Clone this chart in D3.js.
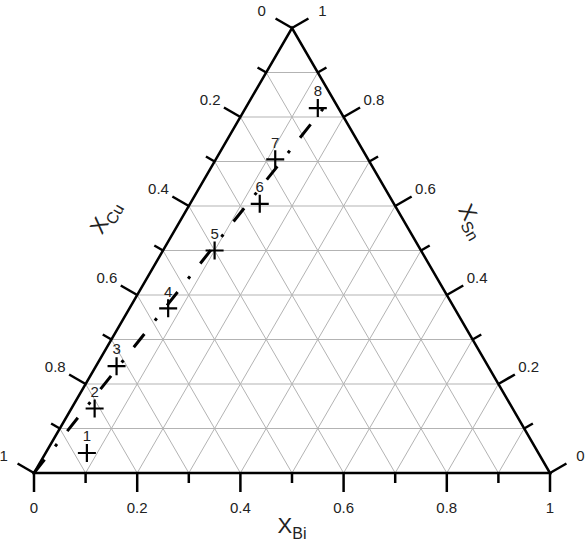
<!DOCTYPE html>
<html>
<head>
<meta charset="utf-8">
<script src="https://cdn.jsdelivr.net/npm/d3@7"></script>
<style>
  body { margin: 0; background: #fff; }
  text { font-family: Arial, "Liberation Sans", sans-serif; fill: #222; }
</style>
</head>
<body>
<div id="chart"></div>
<script>
// sample points (mole fractions)
var pointIds = ["1", "2", "3", "4", "5", "6", "7", "8"];
var pointBi = [0.08, 0.045, 0.04, 0.075, 0.10, 0.135, 0.115, 0.14];
var pointSn = [0.045, 0.145, 0.24, 0.37, 0.50, 0.605, 0.705, 0.82];

// dash-dot guide line from the Cu corner
var lineBi = [0, 0.153];
var lineSn = [0, 0.83];

var gridValues = [0.1, 0.2, 0.3, 0.4, 0.5, 0.6, 0.7, 0.8, 0.9];
var minorTicks = [0.1, 0.3, 0.5, 0.7, 0.9];
var majorTicks = [0, 0.2, 0.4, 0.6, 0.8, 1];
var tickLabels = ["0", "0.2", "0.4", "0.6", "0.8", "1"];

var svgWidth = 585, svgHeight = 545;

var svg = d3.select("#chart")
  .append("svg")
  .attr("width", svgWidth)
  .attr("height", svgHeight);

// base coordinate along the bottom edge and height (XSn)
var xScale = d3.scaleLinear().domain([0, 1]).range([34, 550]);
var yScale = d3.scaleLinear().domain([0, 1]).range([473, 28]);

function proj(bi, sn) {
  return [xScale(bi + sn / 2), yScale(sn)];
}

var line = d3.line();

// grid
var grid = svg.append("g")
  .attr("stroke", "#b3b3b3")
  .attr("stroke-width", 1)
  .attr("fill", "none");

gridValues.forEach(function(v) {
  grid.append("path").attr("d", line([proj(0, v), proj(1 - v, v)]));
  grid.append("path").attr("d", line([proj(v, 0), proj(v, 1 - v)]));
  grid.append("path").attr("d", line([proj(1 - v, 0), proj(0, 1 - v)]));
});

// edges: position of value v along the edge and outward direction
var s3 = Math.sqrt(3) / 2;
var edges = [
  { pos: function(v) { return proj(v, 0); }, out: [0, 1] },            // XBi
  { pos: function(v) { return proj(0, 1 - v); }, out: [-s3, -0.5] },   // XCu
  { pos: function(v) { return proj(1 - v, v); }, out: [s3, -0.5] }     // XSn
];

var axes = svg.append("g");

edges.forEach(function(e) {
  minorTicks.forEach(function(v) {
    var p = e.pos(v);
    axes.append("path")
      .attr("d", line([p, [p[0] + e.out[0] * 10, p[1] + e.out[1] * 10]]))
      .attr("stroke", "#000").attr("stroke-width", 2.5);
  });
  majorTicks.forEach(function(v, i) {
    var p = e.pos(v);
    axes.append("path")
      .attr("d", line([p, [p[0] + e.out[0] * 19, p[1] + e.out[1] * 19]]))
      .attr("stroke", "#000").attr("stroke-width", 2.5);
    axes.append("text")
      .attr("x", p[0] + e.out[0] * 35)
      .attr("y", p[1] + e.out[1] * 35)
      .attr("dy", "0.35em")
      .attr("text-anchor", "middle")
      .attr("font-size", "15px")
      .text(tickLabels[i]);
  });
});

// triangle frame
svg.append("path")
  .attr("d", line([proj(0, 0), proj(1, 0), proj(0, 1)]) + "Z")
  .attr("fill", "none")
  .attr("stroke", "#000")
  .attr("stroke-width", 2.5)
  .attr("stroke-linejoin", "miter");

// dash-dot line
svg.append("path")
  .attr("d", line(lineBi.map(function(b, i) { return proj(b, lineSn[i]); })))
  .attr("fill", "none")
  .attr("stroke", "#000")
  .attr("stroke-width", 3)
  .attr("stroke-dasharray", "17,17,3,16.5");

// points
var pts = svg.append("g");
pointIds.forEach(function(id, i) {
  var p = proj(pointBi[i], pointSn[i]);
  pts.append("path")
    .attr("d", "M" + (p[0] - 9) + "," + p[1] + "h18M" + p[0] + "," + (p[1] - 9) + "v18")
    .attr("stroke", "#000")
    .attr("stroke-width", 2.2);
  pts.append("text")
    .attr("x", p[0])
    .attr("y", p[1] - 17)
    .attr("dy", "0.35em")
    .attr("text-anchor", "middle")
    .attr("font-size", "15px")
    .text(id);
});

// axis titles
function title(x, y, angle, main, sub) {
  var t = svg.append("text")
    .attr("transform", "translate(" + x + "," + y + ") rotate(" + angle + ")")
    .attr("text-anchor", "middle")
    .attr("dy", "0.35em")
    .attr("font-size", "22px");
  t.append("tspan").text(main);
  t.append("tspan").attr("font-size", "16px").attr("dy", "6").text(sub);
}

var midL = proj(0, 0.5), midR = proj(0.5, 0.5), midB = proj(0.5, 0);
title(midL[0] - s3 * 68, midL[1] - 0.5 * 68, -60, "X", "Cu");
title(midR[0] + s3 * 60, midR[1] - 0.5 * 60, 60, "X", "Sn");
title(midB[0], midB[1] + 52, 0, "X", "Bi");
</script>
</body>
</html>
